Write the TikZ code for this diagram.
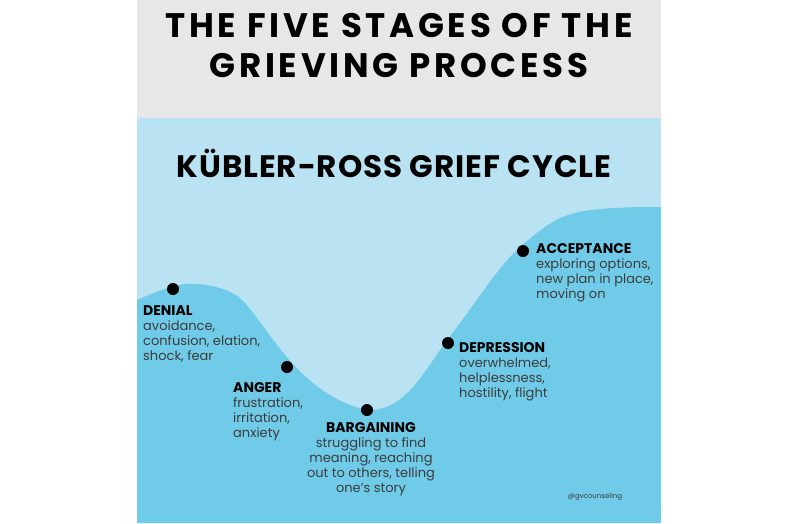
\documentclass[tikz,border=0pt]{standalone}
\usepackage{fontspec}
\setmainfont{Poppins}
\definecolor{hdr}{HTML}{E6E7E9}
\definecolor{lblue}{HTML}{B9E3F2}
\definecolor{dblue}{HTML}{70CBE8}
\definecolor{txt}{HTML}{3C3C3C}
\begin{document}
\begin{tikzpicture}[x=1pt,y=-1pt,
  dot/.style={circle,fill=black,inner sep=0,minimum size=12pt},
  stage/.style={anchor=north west,align=left,inner sep=0,font=\fontsize{13}{15}\selectfont,text=txt}]
\useasboundingbox (0,0) rectangle (798,523);
\fill[white] (0,0) rectangle (798,523);
\fill[hdr] (137,0) rectangle (661,118);
\fill[lblue] (137,118) rectangle (661,523);
\fill[dblue] (137,300) .. controls (160,290) and (180,282) .. (197,284)
  .. controls (220,286) and (235,292) .. (244,302)
  .. controls (270,330) and (300,395) .. (367,410)
  .. controls (405,412) and (425,370) .. (447,340)
  .. controls (475,305) and (495,270) .. (520,247)
  .. controls (545,225) and (560,215) .. (584,211)
  .. controls (610,207) and (640,207) .. (661,207) -- (661,523) -- (137,523) -- cycle;
\node[font=\bfseries\fontsize{34}{40}\selectfont\addfontfeature{LetterSpace=11},align=center,inner sep=0] (head) at (399,46) {THE FIVE STAGES OF THE\\GRIEVING PROCESS};
\node[font=\bfseries\fontsize{31}{30}\selectfont\addfontfeature{LetterSpace=3},inner sep=0] (sub) at (394,163) {KÜBLER-ROSS GRIEF CYCLE};
\node[dot] (d1) at (173,289) {};
\node[dot] (d2) at (287,367) {};
\node[dot] (d3) at (367,410) {};
\node[dot] (d4) at (448,343) {};
\node[dot] (d5) at (523,251) {};
\node[stage] (t1) at (143,305) {{\bfseries\fontsize{14}{15}\selectfont\color{black}DENIAL}\\avoidance,\\confusion, elation,\\shock, fear};
\node[stage] (t2) at (233,382) {{\bfseries\fontsize{14}{15}\selectfont\color{black}ANGER}\\frustration,\\irritation,\\anxiety};
\node[anchor=north,align=center,inner sep=0,font=\fontsize{13}{15}\selectfont,text=txt] (t3) at (371,422) {{\bfseries\fontsize{14}{15}\selectfont\color{black}BARGAINING}\\struggling to find\\meaning, reaching\\out to others, telling\\one’s story};
\node[stage] (t4) at (459,342) {{\bfseries\fontsize{14}{15}\selectfont\color{black}DEPRESSION}\\overwhelmed,\\helplessness,\\hostility, flight};
\node[stage] (t5) at (536,243) {{\bfseries\fontsize{14}{15}\selectfont\color{black}ACCEPTANCE}\\exploring options,\\new plan in place,\\moving on};
\node[font=\fontsize{7}{8}\selectfont,text=txt,inner sep=0] (tag) at (595,497) {@gvcounseling};
\end{tikzpicture}
\end{document}
